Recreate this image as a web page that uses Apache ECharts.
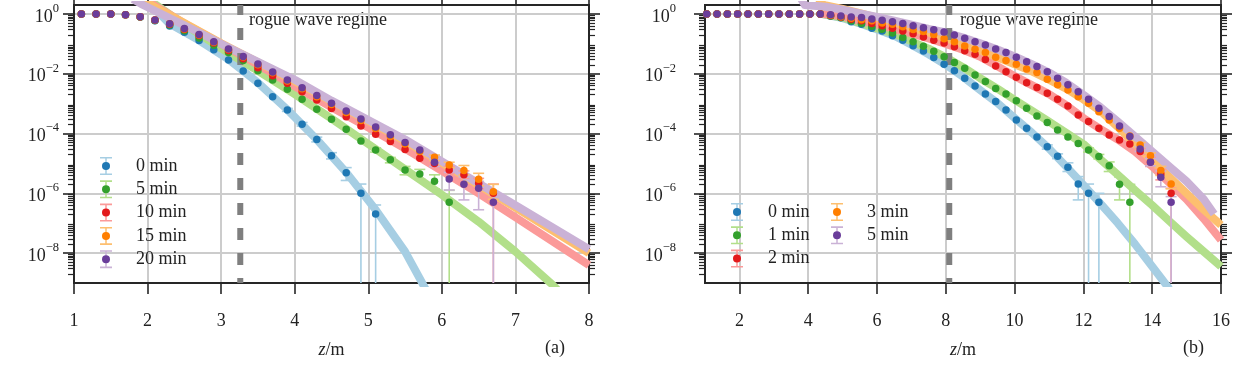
<!DOCTYPE html>
<html><head><meta charset="utf-8">
<script src="https://cdn.jsdelivr.net/npm/echarts@6/dist/echarts.min.js"></script>
<style>
html,body{margin:0;padding:0;background:#fff;}
#wrap{width:1236px;height:365px;position:relative;overflow:hidden;}
#ca,#cb{position:absolute;top:0;width:618px;height:365px;}
#ca{left:0}#cb{left:618px}
</style></head>
<body><div id="wrap"><div id="ca"></div><div id="cb"></div></div>
<script>
// ===================== DATA (values are log10 of exceedance probability) =====================
// Panel (a)
const zA = [1.1,1.3,1.5,1.7,1.9,2.1,2.3,2.5,2.7,2.9,3.1,3.3,3.5,3.7,3.9,4.1,4.3,4.5,4.7,4.9,5.1,5.3,5.5,5.7,5.9,6.1,6.3,6.5,6.7];
const namesA = ['0 min','5 min','10 min','15 min','20 min'];
const a0  = [0,0,0,-0.03,-0.1,-0.23,-0.4,-0.61,-0.89,-1.2,-1.54,-1.91,-2.32,-2.77,-3.21,-3.69,-4.2,-4.74,-5.31,-6.0,-6.69];
const a5  = [0,0,0,-0.03,-0.1,-0.22,-0.37,-0.56,-0.8,-1.05,-1.29,-1.56,-1.9,-2.21,-2.52,-2.85,-3.19,-3.52,-3.86,-4.25,-4.55,-4.88,-5.22,-5.35,-5.6,-6.3];
const a10 = [0,0,0,-0.03,-0.09,-0.2,-0.34,-0.52,-0.72,-0.97,-1.22,-1.5,-1.8,-2.07,-2.32,-2.6,-2.88,-3.16,-3.44,-3.75,-4.02,-4.27,-4.53,-4.83,-5.0,-5.22,-5.38,-5.66,-6.0];
const a15 = [0,0,0,-0.03,-0.09,-0.2,-0.33,-0.5,-0.7,-0.95,-1.19,-1.44,-1.7,-1.97,-2.24,-2.5,-2.77,-3.03,-3.3,-3.56,-3.83,-4.1,-4.35,-4.6,-4.79,-5.05,-5.24,-5.53,-5.95];
const a20 = [0,0,0,-0.03,-0.09,-0.2,-0.33,-0.49,-0.69,-0.93,-1.17,-1.42,-1.67,-1.94,-2.21,-2.47,-2.73,-2.99,-3.25,-3.51,-3.78,-4.04,-4.3,-4.55,-4.96,-5.52,-5.7,-5.83,-6.3];
// error bars [z, lower, upper]; lower null = extends below the axis
const errA0  = [[3.9,-3.26,-3.16],[4.1,-3.75,-3.63],[4.3,-4.28,-4.12],[4.5,-4.85,-4.64],[4.7,-5.57,-5.14],[4.9,null,-5.69],[5.1,null,-6.39]];
const errA5  = [[5.1,-4.62,-4.48],[5.3,-4.98,-4.8],[5.5,-5.38,-5.1],[5.7,-5.52,-5.2],[5.9,-5.85,-5.38],[6.1,null,-5.9]];
const errA10 = [[5.9,-5.1,-4.9],[6.1,-5.33,-5.1],[6.3,-5.5,-5.25],[6.5,-5.85,-5.5],[6.7,null,-5.69]];
const errA15 = [[5.9,-4.9,-4.72],[6.1,-5.15,-4.96],[6.3,-5.38,-5.07],[6.5,-5.75,-5.33],[6.7,-6.2,-5.7]];
const errA20 = [[5.9,-5.1,-4.85],[6.1,-5.89,-5.3],[6.3,-6.22,-5.45],[6.5,-6.55,-5.6],[6.7,null,-6.0]];
// fitted tails [z, log10 P]
const fitA0  = [[1.97,0.5],[2.3,-0.33],[2.7,-0.88],[3.1,-1.52],[3.5,-2.3],[3.9,-3.2],[4.3,-4.2],[4.7,-5.3],[5.1,-6.55],[5.5,-7.95],[5.8,-9.3]];
const fitA5  = [[2.0,0.5],[2.5,-0.35],[3.0,-1.15],[3.5,-1.9],[4.0,-2.68],[4.5,-3.5],[5.0,-4.35],[5.5,-5.2],[6.0,-6.05],[6.5,-6.95],[7.0,-7.95],[7.5,-9.05],[7.6,-9.3]];
const fitA10 = [[1.95,0.5],[2.5,-0.32],[3.0,-1.0],[3.5,-1.7],[4.0,-2.42],[4.5,-3.12],[5.0,-3.8],[5.5,-4.5],[6.0,-5.25],[6.5,-6.0],[7.0,-6.8],[7.5,-7.6],[8.0,-8.4]];
const fitA15 = [[1.9,0.5],[2.05,0.3],[2.5,-0.3],[3.0,-0.98],[3.5,-1.62],[4.0,-2.25],[4.5,-2.93],[5.0,-3.58],[5.5,-4.25],[6.0,-4.98],[6.5,-5.72],[7.0,-6.48],[7.5,-7.24],[8.0,-8.0]];
const fitA20 = [[1.8,0.5],[1.94,0.3],[2.3,-0.14],[2.7,-0.62],[3.1,-1.12],[3.5,-1.6],[4.0,-2.2],[4.5,-2.9],[5.0,-3.55],[5.5,-4.2],[6.0,-4.93],[6.5,-5.67],[7.0,-6.4],[7.5,-7.13],[8.0,-7.87]];
const regimeA = 3.26;

// Panel (b)
const zB = [1.05,1.35,1.65,1.95,2.25,2.55,2.85,3.15,3.45,3.75,4.05,4.35,4.65,4.95,5.25,5.55,5.85,6.15,6.45,6.75,7.05,7.35,7.65,7.95,8.25,8.55,8.85,9.15,9.45,9.75,10.05,10.35,10.65,10.95,11.25,11.55,11.85,12.15,12.45,12.75,13.05,13.35,13.65,13.95,14.25,14.55];
const namesB = ['0 min','1 min','2 min','3 min','5 min'];
const b0 = [0,0,0,0,0,0,0,0,0,0,0,0,-0.07,-0.13,-0.26,-0.34,-0.48,-0.57,-0.73,-0.88,-1.06,-1.24,-1.46,-1.68,-1.9,-2.15,-2.41,-2.68,-2.93,-3.21,-3.55,-3.82,-4.12,-4.44,-4.76,-5.13,-5.69,-6.0,-6.3];
const b1 = [0,0,0,0,0,0,0,0,0,0,0,0,-0.07,-0.12,-0.23,-0.31,-0.41,-0.51,-0.64,-0.79,-0.93,-1.08,-1.25,-1.43,-1.62,-1.82,-2.04,-2.26,-2.49,-2.68,-2.9,-3.15,-3.41,-3.63,-3.88,-4.12,-4.33,-4.55,-4.77,-5.08,-5.7,-6.3];
const b2 = [0,0,0,0,0,0,0,0,0,0,0,0,-0.05,-0.1,-0.18,-0.23,-0.32,-0.39,-0.48,-0.57,-0.66,-0.77,-0.88,-0.97,-1.1,-1.23,-1.35,-1.52,-1.74,-1.93,-2.12,-2.3,-2.46,-2.65,-2.85,-3.08,-3.38,-3.6,-3.82,-4.05,-4.22,-4.35,-4.6,-4.95,-5.35,-6.0];
const b3 = [0,0,0,0,0,0,0,0,0,0,0,0,-0.04,-0.09,-0.14,-0.19,-0.23,-0.3,-0.34,-0.43,-0.52,-0.59,-0.69,-0.83,-0.93,-1.07,-1.18,-1.29,-1.45,-1.56,-1.68,-1.84,-1.96,-2.18,-2.37,-2.54,-2.77,-2.99,-3.27,-3.55,-3.82,-4.08,-4.38,-4.74,-5.24,-5.69];
const b5 = [0,0,0,0,0,0,0,0,0,0,0,0,-0.03,-0.07,-0.1,-0.12,-0.17,-0.21,-0.26,-0.32,-0.39,-0.46,-0.53,-0.6,-0.7,-0.81,-0.93,-1.04,-1.17,-1.29,-1.45,-1.6,-1.76,-1.93,-2.15,-2.37,-2.6,-2.85,-3.15,-3.43,-3.75,-4.1,-4.52,-4.96,-5.46,-6.3];
const errB0 = [[10.95,-4.52,-4.38],[11.25,-4.84,-4.68],[11.55,-5.27,-4.98],[11.85,-6.22,-5.44],[12.15,null,-5.69],[12.45,null,-6.0]];
const errB1 = [[12.15,-4.62,-4.48],[12.45,-4.85,-4.7],[12.75,-5.27,-4.95],[13.05,-6.22,-5.45],[13.35,null,-5.7]];
const errB2 = [[13.65,-4.7,-4.5],[13.95,-5.1,-4.8],[14.25,-5.55,-5.2],[14.55,null,-5.83]];
const errB3 = [[13.65,-4.45,-4.3],[13.95,-4.85,-4.65],[14.25,-5.4,-5.1],[14.55,-5.85,-5.55]];
const errB5 = [[13.65,-4.6,-4.44],[13.95,-5.08,-4.84],[14.25,-5.78,-5.25],[14.55,null,-6.11]];
const fitB0 = [[4.3,0.02],[5.0,-0.14],[5.5,-0.32],[6.0,-0.52],[6.5,-0.73],[7.0,-1.03],[7.5,-1.35],[8.0,-1.7],[8.5,-2.1],[9.0,-2.55],[9.5,-2.98],[10.0,-3.48],[10.5,-3.97],[11.0,-4.5],[11.5,-5.1],[12.0,-5.72],[12.5,-6.35],[13.0,-7.0],[13.5,-7.7],[14.0,-8.45],[14.5,-9.2]];
const fitB1 = [[4.3,0.02],[5.0,-0.12],[5.5,-0.3],[6.0,-0.48],[6.5,-0.66],[7.0,-0.92],[7.5,-1.16],[8.0,-1.45],[8.5,-1.78],[9.0,-2.15],[9.5,-2.5],[10.0,-2.87],[10.5,-3.23],[11.0,-3.6],[11.5,-3.98],[12.0,-4.35],[12.5,-4.87],[13.0,-5.38],[13.5,-5.9],[14.0,-6.4],[14.5,-6.93],[15.0,-7.45],[15.5,-7.95],[16.0,-8.45]];
const fitB2 = [[4.3,0.02],[5.0,-0.08],[5.5,-0.22],[6.0,-0.35],[6.5,-0.5],[7.0,-0.65],[7.5,-0.82],[8.0,-1.0],[8.5,-1.2],[9.0,-1.43],[9.5,-1.75],[10.0,-2.08],[10.5,-2.38],[11.0,-2.68],[11.5,-3.05],[12.0,-3.48],[12.5,-3.85],[13.0,-4.2],[13.5,-4.6],[14.0,-5.1],[14.5,-5.65],[15.0,-6.2],[15.5,-6.85],[16.0,-7.56]];
const fitB3 = [[4.3,0.5],[4.45,0.3],[5.0,0.17],[5.5,0.03],[6.0,-0.12],[6.5,-0.28],[7.0,-0.46],[7.5,-0.62],[8.0,-0.8],[8.5,-1.02],[9.0,-1.22],[9.5,-1.45],[10.0,-1.68],[10.5,-1.92],[11.0,-2.2],[11.5,-2.5],[12.0,-2.86],[12.5,-3.25],[13.0,-3.78],[13.5,-4.35],[14.0,-4.9],[14.5,-5.45],[15.0,-6.0],[15.5,-6.55],[16.0,-7.06]];
const fitB5 = [[3.8,0.5],[3.9,0.3],[4.5,0.24],[5.0,0.14],[5.5,0.02],[6.0,-0.1],[6.5,-0.22],[7.0,-0.36],[7.5,-0.5],[8.0,-0.62],[8.5,-0.79],[9.0,-0.98],[9.5,-1.19],[10.0,-1.42],[10.5,-1.68],[11.0,-1.96],[11.5,-2.3],[12.0,-2.7],[12.5,-3.12],[13.0,-3.6],[13.5,-4.1],[14.0,-4.6],[14.5,-5.1],[15.0,-5.6],[15.5,-6.2],[15.8,-6.69]];
const regimeB = 8.1;

// axis tick values
const yMajor = [-8,-6,-4,-2,0];
const xTicksA = [1,2,3,4,5,6,7,8];
const xTicksB = [2,4,6,8,10,12,14,16];
const Y_MIN = -9, Y_MAX = 0.3;

// ===================== STYLE =====================
const FONT = '"Liberation Serif","DejaVu Serif",serif';
const DARK  = ['#1f78b4','#33a02c','#e31a1c','#ff7f00','#6a3d9a'];
const LIGHT = ['#a6cee3','#b2df8a','#fb9a99','#fdbf6f','#cab2d6'];
const AX = '#262626';
const yMinor = [];
for (let d = -9; d <= 0; d++) for (let k = 2; k <= 9; k++) { const v = d + Math.log10(k); if (v < Y_MAX) yMinor.push(v); }
const ERR_ICON = 'path://M0,0H12V1.6H0Z M5.25,0H6.75V18H5.25Z M0,16.4H12V18H0Z';

function errRender(color) {
  return function (params, api) {
    const x = api.value(0);
    let lo = api.value(1), hi = api.value(2);
    const open = !isFinite(lo);
    if (open) lo = Y_MIN;
    const pLo = api.coord([x, Math.max(lo, Y_MIN)]);
    const pHi = api.coord([x, Math.min(hi, Y_MAX)]);
    const hw = 5.5;
    const st = {stroke: color, lineWidth: 1.6};
    const ch = [
      {type:'line', shape:{x1:pHi[0], y1:pHi[1], x2:pLo[0], y2:pLo[1]}, style: st},
      {type:'line', shape:{x1:pHi[0]-hw, y1:pHi[1], x2:pHi[0]+hw, y2:pHi[1]}, style: st}
    ];
    if (!open) ch.push({type:'line', shape:{x1:pLo[0]-hw, y1:pLo[1], x2:pLo[0]+hw, y2:pLo[1]}, style: st});
    return {type:'group', children: ch};
  };
}

function yAxis(pos, minor, labels, split, labelMargin) {
  return {
    type:'value', min:Y_MIN, max:Y_MAX, position: pos, gridIndex:0,
    axisLine:{show:true, onZero:false, lineStyle:{color:AX, width:2}},
    axisTick:{show:true, length: minor ? 6 : 11, customValues: minor ? yMinor : yMajor, lineStyle:{color:AX, width: minor ? 1.2 : 1.6}},
    axisLabel: labels ? {
      show:true, customValues: yMajor, margin: labelMargin, align:'right', verticalAlign:'middle',
      formatter: v => '{b|10}{s|' + (Math.round(v) === 0 ? '0' : '\u2212' + Math.abs(Math.round(v))) + '}',
      rich: {
        b:{fontFamily:FONT, fontSize:18, color:'#222', lineHeight:24, verticalAlign:'bottom'},
        s:{fontFamily:FONT, fontSize:12.5, color:'#222', lineHeight:13, verticalAlign:'top'}
      }
    } : {show:false},
    splitLine:{show: !!split, lineStyle:{color:'#cccccc', width:2}}
  };
}
function xAxis(pos, min, max, ticks, labels) {
  return {
    type:'value', min:min, max:max, position:pos, gridIndex:0,
    axisLine:{show:true, onZero:false, lineStyle:{color:AX, width:2}},
    axisTick:{show:true, length:11, customValues: ticks, lineStyle:{color:AX, width:1.6}},
    axisLabel: labels ? {show:true, customValues: ticks, margin: 29, fontFamily:FONT, fontSize:18, color:'#222'} : {show:false},
    splitLine:{show: labels, lineStyle:{color:'#cccccc', width:2}},
    name: labels ? '{i|z}{n|/m}' : '', nameLocation:'middle', nameGap: 58,
    nameTextStyle:{rich:{i:{fontFamily:FONT, fontStyle:'italic', fontSize:18, color:'#222'}, n:{fontFamily:FONT, fontSize:18, color:'#222'}}}
  };
}

function buildChart(el, cfg) {
  const chart = echarts.init(el, null, {renderer:'canvas'});
  const series = [];
  cfg.fits.forEach((f, i) => series.push({
    type:'line', name:'fit ' + i, data:f, showSymbol:false, smooth:false,
    lineStyle:{color:LIGHT[i], width:8, cap:'butt', join:'round'}, z:2, silent:true, clip:true
  }));
  series.push({type:'line', name:'regime', data:[[cfg.regime, Y_MIN],[cfg.regime, Y_MAX]], showSymbol:false,
    lineStyle:{color:'#7f7f7f', width:6, type:[12,13], dashOffset: 7}, z:3, silent:true});
  cfg.errs.forEach((e, i) => series.push({
    type:'custom', name: cfg.names[i] + ' err', data:e, renderItem: errRender(LIGHT[i]),
    encode:{x:0, y:[1,2]}, z:4, silent:true, clip:true
  }));
  cfg.dots.forEach((d, i) => series.push({
    type:'scatter', name: cfg.names[i], data: d.map((v, j) => [cfg.z[j], v]),
    symbolSize:7.5, itemStyle:{color:DARK[i], opacity:1}, z:5, silent:true
  }));
  const legends = [];
  cfg.legendCols.forEach(col => {
    legends.push({
      orient:'vertical', left: col.left, top: col.top, padding:0, itemWidth:12, itemHeight:18, itemGap:5.3, selectedMode:false,
      data: col.items.map(i => ({name: cfg.names[i] + ' err', icon: ERR_ICON, itemStyle:{color:LIGHT[i]}})),
      formatter: n => n.replace(' err', ''),
      textStyle:{fontFamily:FONT, fontSize:18, color:'#222', lineHeight:18, padding:[0,0,0,col.pad]}
    });
    legends.push({
      orient:'vertical', left: col.left + 2, top: col.top, padding:0, itemWidth:8, itemHeight:18, itemGap:5.3, selectedMode:false,
      data: col.items.map(i => ({name: cfg.names[i], icon: 'circle', itemStyle:{color:DARK[i]}})),
      formatter: () => ' ',
      textStyle:{fontFamily:FONT, fontSize:18, lineHeight:18, color:'rgba(0,0,0,0)'}
    });
  });
  chart.setOption({
    animation:false, backgroundColor:'#fff',
    grid:{left:cfg.grid[0], right:cfg.grid[1], top:5, bottom:82, containLabel:false},
    xAxis:[xAxis('bottom', cfg.xmin, cfg.xmax, cfg.xticks, true), xAxis('top', cfg.xmin, cfg.xmax, cfg.xticks, false)],
    yAxis:[yAxis('left', false, true, true, cfg.yLabelMargin), yAxis('left', true, false, false), yAxis('right', false, false, false), yAxis('right', true, false, false)],
    legend: legends,
    graphic:[
      {type:'text', left: cfg.regimeText, top: 11, style:{text:'rogue wave regime', fontFamily:FONT, fontSize:18, fill:'#222'}},
      {type:'text', left: cfg.tag, top: 339, style:{text: cfg.tagText, fontFamily:FONT, fontSize:18, fill:'#222'}}
    ],
    series: series
  });
}

buildChart(document.getElementById('ca'), {
  z: zA, names: namesA, dots:[a0,a5,a10,a15,a20], errs:[errA0,errA5,errA10,errA15,errA20],
  fits:[fitA0,fitA5,fitA10,fitA15,fitA20], regime: regimeA,
  xmin:1, xmax:8, xticks: xTicksA, grid:[74, 29], yLabelMargin: 15,
  legendCols:[{left:100, top:157, items:[0,1,2,3,4], pad:19}],
  regimeText: 249, tag: 545, tagText:'(a)'
});
buildChart(document.getElementById('cb'), {
  z: zB, names: namesB, dots:[b0,b1,b2,b3,b5], errs:[errB0,errB1,errB2,errB3,errB5],
  fits:[fitB0,fitB1,fitB2,fitB3,fitB5], regime: regimeB,
  xmin:1, xmax:16, xticks: xTicksB, grid:[87, 15], yLabelMargin: 29,
  legendCols:[{left:113, top:203, items:[0,1,2], pad:20},{left:213, top:203, items:[3,4], pad:19}],
  regimeText: 342, tag: 565, tagText:'(b)'
});
</script></body></html>
